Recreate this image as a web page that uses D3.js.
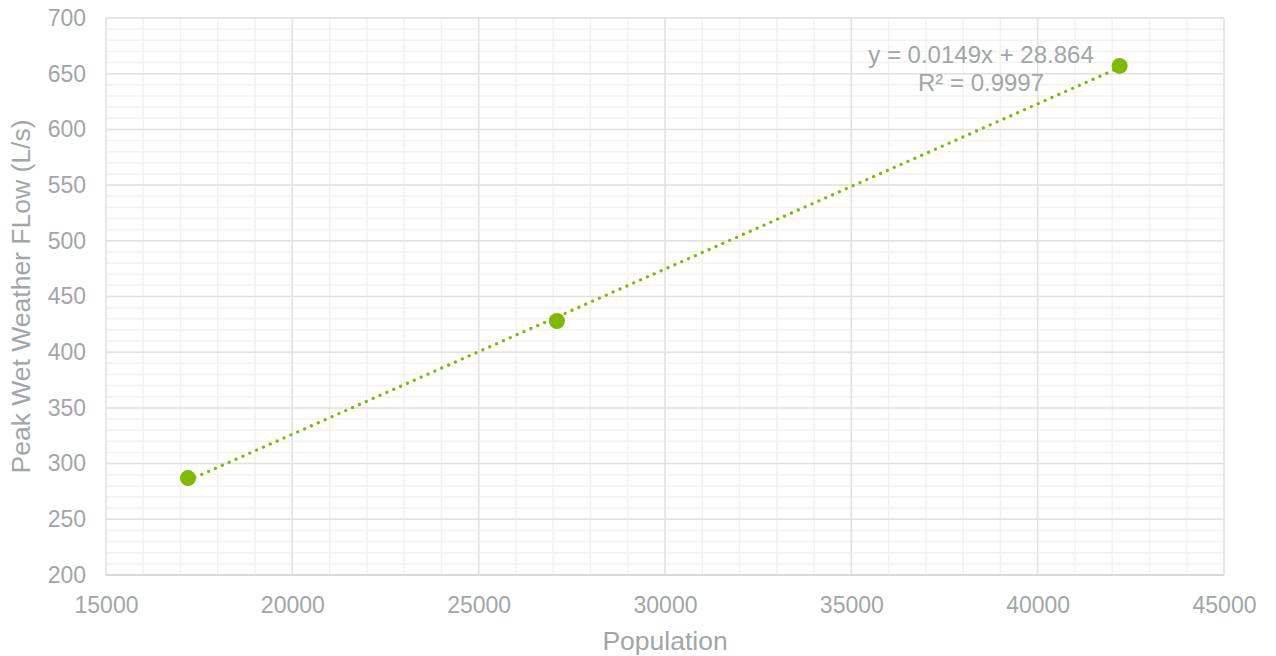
<!DOCTYPE html>
<html><head><meta charset="utf-8">
<script src="https://cdn.jsdelivr.net/npm/d3@7"></script>
<style>body{margin:0;background:#fff}svg{display:block}text{font-family:"Liberation Sans",Arial,sans-serif}</style>
</head><body><svg id="c" width="1276" height="656"></svg>
<script>
const population = [17200, 27100, 42200];
const peakFlow = [287, 428, 657];
const xTicks = [15000, 20000, 25000, 30000, 35000, 40000, 45000];
const yTicks = [200, 250, 300, 350, 400, 450, 500, 550, 600, 650, 700];
const equationLines = ["y = 0.0149x + 28.864", "R² = 0.9997"];
const xTitle = "Population";
const yTitle = "Peak Wet Weather FLow (L/s)";

const svg = d3.select("#c");
const L = 106, R = 1224, T = 18, B = 575;
const x = d3.scaleLinear().domain([15000, 45000]).range([L, R]);
const y = d3.scaleLinear().domain([200, 700]).range([B, T]);
const textCol = "#a1a6a6";
const green = "#7fba00";

const g = svg.append("g");
g.selectAll(".mx").data(d3.range(15000, 45001, 1000)).join("line")
  .attr("x1", d => x(d)).attr("x2", d => x(d)).attr("y1", T).attr("y2", B)
  .attr("stroke", "#f2f2f2").attr("stroke-width", 1.5);
g.selectAll(".my").data(d3.range(200, 701, 10)).join("line")
  .attr("y1", d => y(d)).attr("y2", d => y(d)).attr("x1", L).attr("x2", R)
  .attr("stroke", "#f2f2f2").attr("stroke-width", 1.5);
g.selectAll(".Mx").data(xTicks).join("line")
  .attr("x1", d => x(d)).attr("x2", d => x(d)).attr("y1", T).attr("y2", B)
  .attr("stroke", "#e2e2e2").attr("stroke-width", 1.5);
g.selectAll(".My").data(yTicks).join("line")
  .attr("y1", d => y(d)).attr("y2", d => y(d)).attr("x1", L).attr("x2", R)
  .attr("stroke", "#e2e2e2").attr("stroke-width", 1.5);
g.append("line").attr("x1", L).attr("x2", R).attr("y1", B).attr("y2", B)
  .attr("stroke", "#d9d9d9").attr("stroke-width", 2);

const xAxis = svg.append("g").attr("transform", `translate(0,${B})`)
  .call(d3.axisBottom(x).tickValues(xTicks).tickSize(0).tickPadding(22).tickFormat(d3.format("d")));
const yAxis = svg.append("g").attr("transform", `translate(${L},0)`)
  .call(d3.axisLeft(y).tickValues(yTicks).tickSize(0).tickPadding(20).tickFormat(d3.format("d")));
[xAxis, yAxis].forEach(a => {
  a.select(".domain").remove();
  a.selectAll("text").attr("fill", textCol).attr("font-size", 23)
   .attr("font-family", "Liberation Sans, Arial, sans-serif");
});

svg.append("text").attr("x", (L + R) / 2).attr("y", 650).attr("text-anchor", "middle")
  .attr("fill", textCol).attr("font-size", 26.5).text(xTitle);
svg.append("text").attr("transform", `translate(30,${(T + B) / 2}) rotate(-90)`)
  .attr("text-anchor", "middle").attr("fill", textCol).attr("font-size", 26.5).text(yTitle);

const mx = d3.mean(population), my = d3.mean(peakFlow);
const slope = d3.sum(population.map((p, i) => (p - mx) * (peakFlow[i] - my))) /
              d3.sum(population.map(p => (p - mx) ** 2));
const icpt = my - slope * mx;
const x0 = d3.min(population), x1 = d3.max(population);
svg.append("line").attr("x1", x(x0)).attr("y1", y(slope * x0 + icpt))
  .attr("x2", x(x1)).attr("y2", y(slope * x1 + icpt))
  .attr("stroke", green).attr("stroke-width", 3.2).attr("stroke-linecap", "round")
  .attr("stroke-dasharray", "0.1 7.4");

svg.selectAll(".pt").data(population).join("circle")
  .attr("cx", d => x(d)).attr("cy", (d, i) => y(peakFlow[i])).attr("r", 8).attr("fill", green);

const eq = svg.append("text").attr("fill", textCol).attr("font-size", 24).attr("text-anchor", "middle");
equationLines.forEach((t, i) => eq.append("tspan").attr("x", 981).attr("y", 63 + i * 28).text(t));
</script></body></html>
